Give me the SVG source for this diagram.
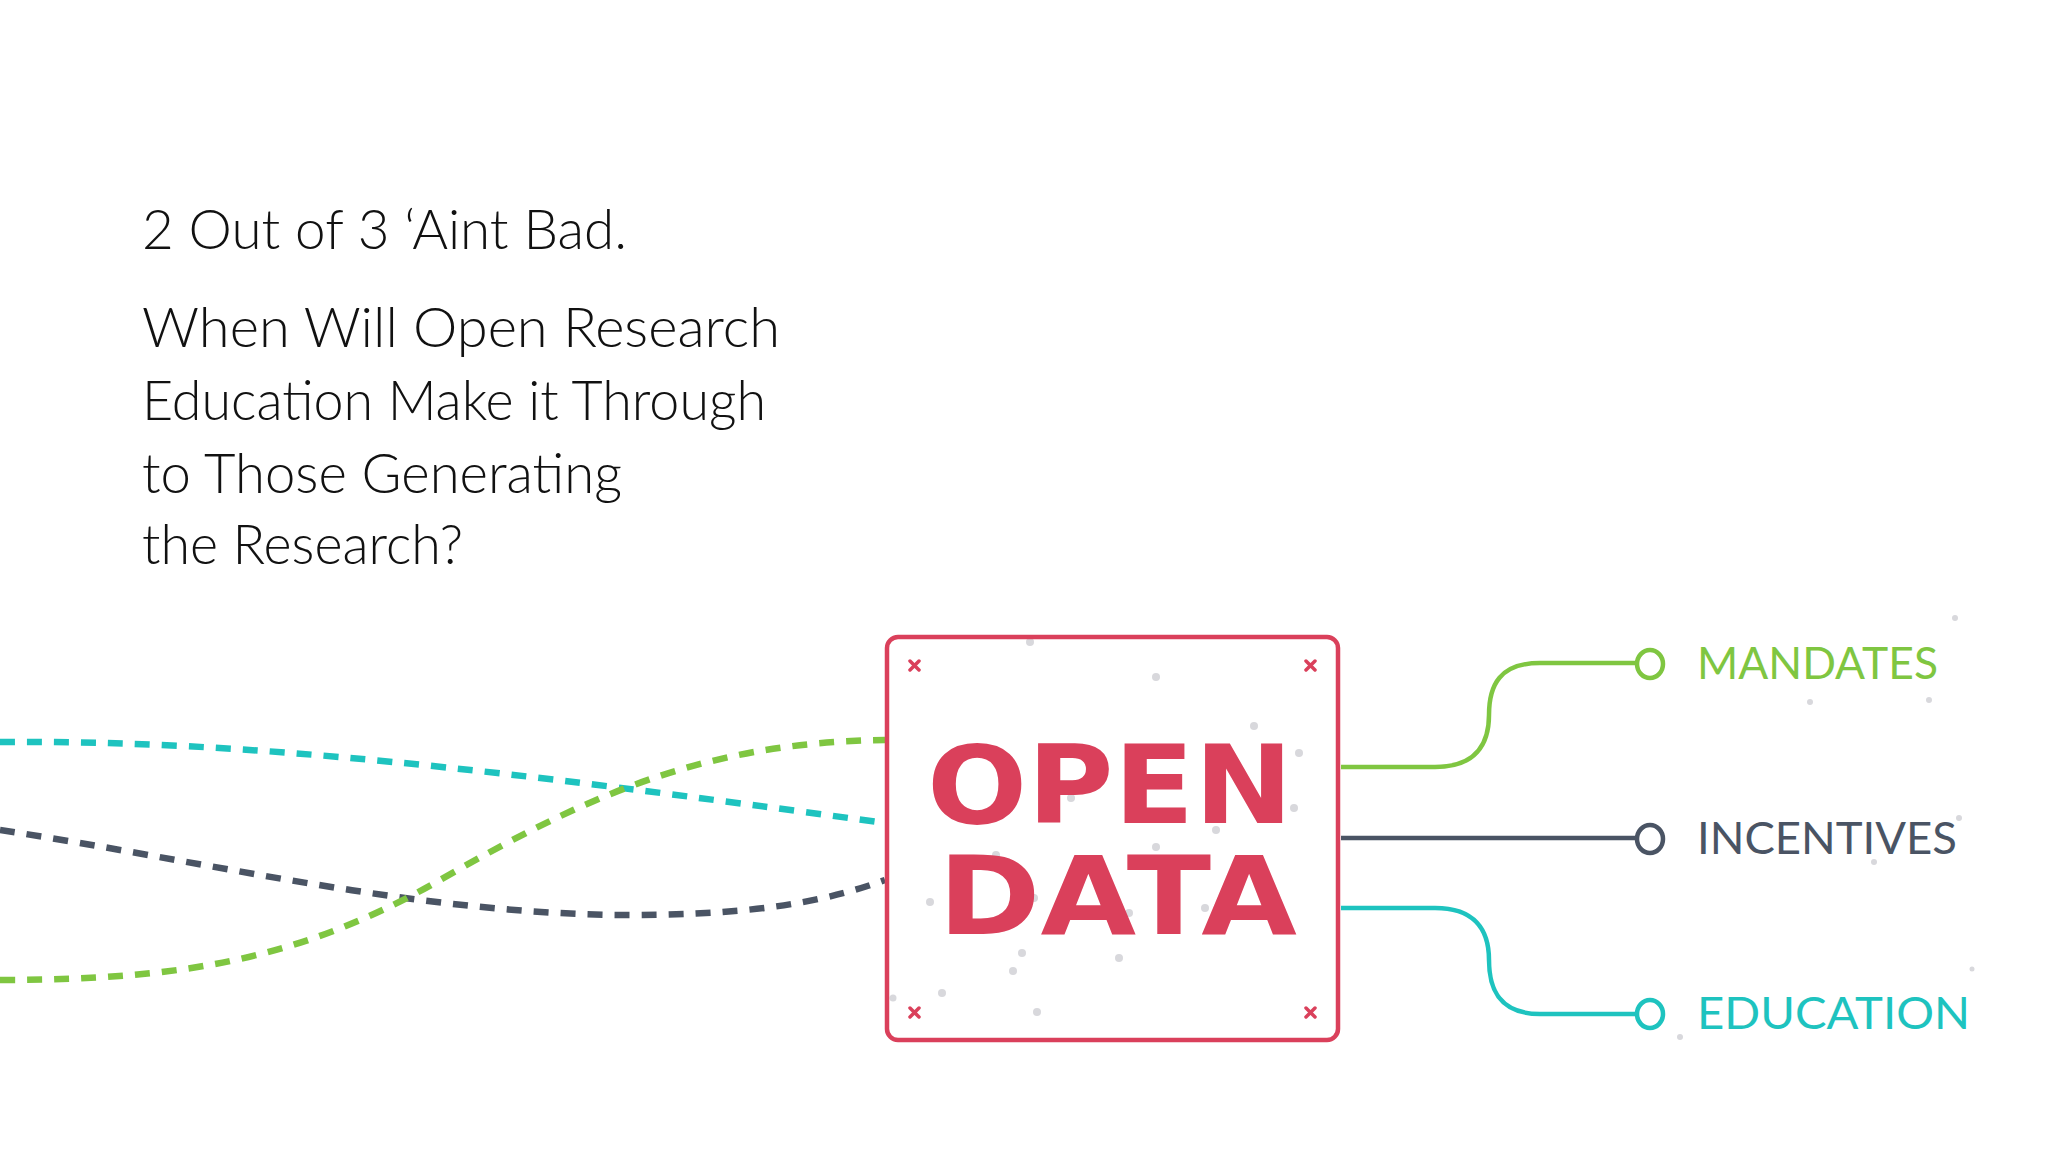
<svg xmlns="http://www.w3.org/2000/svg" width="2048" height="1152" viewBox="0 0 2048 1152">
<style>
.title{font-family:Lato,"Open Sans","Liberation Sans",sans-serif;font-weight:300;font-size:56px;fill:#111}
.big{font-family:"DejaVu Sans","Liberation Sans",sans-serif;font-weight:bold;font-size:108px;fill:#DA405B}
.lbl{font-family:Lato,"Open Sans","Liberation Sans",sans-serif;font-size:44px}
.dash{fill:none;stroke-width:6.5;stroke-dasharray:15 12}
.conn{fill:none;stroke-width:4.5}
.dot{fill:#d8d8dc}
.x{stroke:#DA405B;stroke-width:3.5;stroke-linecap:round}
</style>
<rect width="2048" height="1152" fill="#ffffff"/>
<g id="title">
<text class="title" x="142" y="249" textLength="485" lengthAdjust="spacingAndGlyphs">2 Out of 3 ‘Aint Bad.</text>
<text class="title" x="142" y="347" textLength="638" lengthAdjust="spacingAndGlyphs">When Will Open Research</text>
<text class="title" x="142" y="420" textLength="624" lengthAdjust="spacingAndGlyphs">Education Make it Through</text>
<text class="title" x="142" y="493" textLength="480" lengthAdjust="spacingAndGlyphs">to Those Generating</text>
<text class="title" x="142" y="564" textLength="321" lengthAdjust="spacingAndGlyphs">the Research?</text>
</g>
<g id="dots">
<circle class="dot" cx="1030" cy="642" r="4"/><circle class="dot" cx="1156" cy="677" r="4"/>
<circle class="dot" cx="1254" cy="726" r="4"/><circle class="dot" cx="1299" cy="753" r="4"/>
<circle class="dot" cx="1071" cy="798" r="4"/><circle class="dot" cx="1294" cy="808" r="4"/>
<circle class="dot" cx="1216" cy="830" r="4"/><circle class="dot" cx="1156" cy="847" r="4"/>
<circle class="dot" cx="996" cy="855" r="4"/><circle class="dot" cx="930" cy="902" r="4"/>
<circle class="dot" cx="1034" cy="898" r="4"/><circle class="dot" cx="1129" cy="913" r="4"/>
<circle class="dot" cx="1205" cy="908" r="4"/><circle class="dot" cx="1022" cy="953" r="4"/>
<circle class="dot" cx="1119" cy="958" r="4"/><circle class="dot" cx="1013" cy="971" r="4"/>
<circle class="dot" cx="942" cy="993" r="4"/><circle class="dot" cx="893" cy="998" r="3.5"/>
<circle class="dot" cx="1037" cy="1012" r="4"/>
<circle class="dot" cx="1955" cy="618" r="3"/><circle class="dot" cx="1810" cy="702" r="3"/>
<circle class="dot" cx="1929" cy="700" r="3"/><circle class="dot" cx="1959" cy="818" r="3"/>
<circle class="dot" cx="1874" cy="862" r="3"/><circle class="dot" cx="1972" cy="969" r="2.5"/>
<circle class="dot" cx="1680" cy="1037" r="3"/>
</g>
<g id="connectors">
<path class="dash" stroke="#1EC3BF" d="M0 742 C250 740 500 770 885 823"/>
<path class="dash" stroke="#4A5464" d="M0 830 C200 860 420 915 630 915 C760 915 830 900 885 880"/>
<path class="dash" stroke="#7FC641" d="M0 980 C180 980 300 960 440 880 C580 800 700 742 885 740"/>
<path class="conn" stroke="#7FC641" d="M1341 767 H1435 C1475 767 1489 745 1489 715 C1489 685 1500 663 1540 663 H1636"/>
<path class="conn" stroke="#4A5464" d="M1341 838 H1636"/>
<path class="conn" stroke="#1EC3BF" d="M1341 908 H1435 C1475 908 1489 930 1489 960 C1489 990 1500 1014 1540 1014 H1636"/>
</g>
<g id="open-data">
<rect x="887" y="637" width="451" height="403" rx="11" fill="none" stroke="#DA405B" stroke-width="4.5"/>
<path class="x" d="M910 661 l9 9 M919 661 l-9 9 M1306 661 l9 9 M1315 661 l-9 9 M910 1008 l9 9 M919 1008 l-9 9 M1306 1008 l9 9 M1315 1008 l-9 9"/>
<text class="big"><tspan x="927" y="823" textLength="366" lengthAdjust="spacingAndGlyphs">OPEN</tspan><tspan x="938" y="934" textLength="359" lengthAdjust="spacingAndGlyphs">DATA</tspan></text>
</g>
<g id="mandates">
<ellipse cx="1650" cy="664" rx="13" ry="14" fill="#fff" stroke="#7FC641" stroke-width="4.5"/>
<text class="lbl" x="1697" y="679" fill="#7FC641" textLength="241" lengthAdjust="spacingAndGlyphs">MANDATES</text>
</g>
<g id="incentives">
<ellipse cx="1650" cy="839" rx="13" ry="14" fill="#fff" stroke="#4A5464" stroke-width="4.5"/>
<text class="lbl" x="1697" y="854" fill="#4A5464" textLength="260" lengthAdjust="spacingAndGlyphs">INCENTIVES</text>
</g>
<g id="education">
<ellipse cx="1650" cy="1014" rx="13" ry="14" fill="#fff" stroke="#1EC3BF" stroke-width="4.5"/>
<text class="lbl" x="1697" y="1029" fill="#1EC3BF" textLength="273" lengthAdjust="spacingAndGlyphs">EDUCATION</text>
</g>
</svg>
